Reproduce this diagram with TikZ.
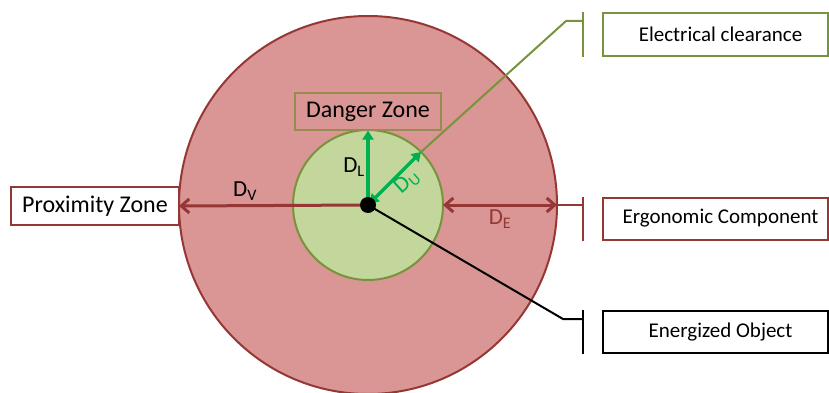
\documentclass[tikz,border=0pt]{standalone}
\usepackage{fontspec}
\setmainfont{Carlito}
\usetikzlibrary{arrows.meta,positioning,calc}
\definecolor{zonered}{RGB}{217,150,148}
\definecolor{edgered}{RGB}{149,55,53}
\definecolor{zonegreen}{RGB}{195,214,155}
\definecolor{edgegreen}{RGB}{119,147,60}
\definecolor{arrgreen}{RGB}{0,176,80}
\definecolor{dangeredge}{RGB}{150,140,80}
\tikzset{
  tagbox/.style={rectangle, draw, line width=2pt, fill=white, minimum width=225, minimum height=42,
                 inner sep=0pt, font=\fontsize{21}{23}\selectfont},
  conn/.style={line width=2pt},
  dim/.style={line width=3pt, {Straight Barb[length=8pt,width=14pt]}-{Straight Barb[length=8pt,width=14pt]}},
  gdim/.style={line width=3.2pt, arrgreen, {Triangle[length=9pt,width=11pt]}-{Triangle[length=9pt,width=11pt]}},
  lbl/.style={font=\fontsize{23}{25}\selectfont, inner sep=0pt},
}

\begin{document}
\begin{tikzpicture}[x=1pt,y=1pt]
\useasboundingbox (0,0) rectangle (829,392);
\clip (0,0) rectangle (829,392);

% ================= the two zones =================
\coordinate (c) at (368,187);
\draw[edgered, line width=2pt, fill=zonered] (c) circle (189);
\draw[edgegreen, line width=2pt, fill=zonegreen] (c) circle (75);

\coordinate (outL) at ($(c)+(-189,-1)$);
\coordinate (outR) at ($(c)+(189,0)$);
\coordinate (inR)  at ($(c)+(75,0)$);
\coordinate (inU)  at ($(c)+(45:75)$);

% ================= zone labels =================
\node[draw=dangeredge, line width=1.2pt, minimum width=146, minimum height=37, inner sep=0pt,
      font=\fontsize{24}{26}\selectfont] (danger) at (368,280.5) {Danger Zone};
\node[draw=edgered, line width=1.2pt, fill=white, minimum width=168, minimum height=38, inner sep=0pt,
      font=\fontsize{24}{26}\selectfont] (prox) at (95,186) {Proximity Zone};

% ================= distances =================
\draw[dim, edgered, {Straight Barb[length=8pt,width=14pt]}-] (outL) -- (c);
\draw[dim, edgered] (inR) -- (outR);
\draw[gdim, -{Triangle[length=9pt,width=11pt]}] (c) -- (danger.south);
\draw[gdim] ($(c)+(45:2)$) -- (inU);

\node[lbl] (dv) at (245,201) {D\textsubscript{V}};
\node[lbl, text=edgered] (de) at (500,173) {D\textsubscript{E}};
\node[lbl] (dl) at (354,225) {D\textsubscript{L}};
\node[lbl, text=arrgreen, rotate=42] (du) at (407,210) {D\textsubscript{U}};

\fill (c) circle (8);

% ================= side tags =================
\node[tagbox, draw=edgegreen] (elec) at (715.5,357.5) {\hspace*{10pt}Electrical clearance};
\node[tagbox, draw=edgered] (ergo) at (715.5,173.5) {\hspace*{10pt}Ergonomic Component};
\node[tagbox, draw=black] (ener) at (715.5,60) {\hspace*{10pt}Energized Object};

\coordinate (bx) at (583,0);
\coordinate (kE) at (566,371);
\coordinate (kO) at (563,73);
\draw[conn, edgegreen] (inU) -- (kE) -- (kE -| bx);
\draw[conn, edgegreen] (elec.north -| bx) -- (elec.south -| bx);
\draw[conn, edgered] (outR) -- (outR -| bx);
\draw[conn, edgered] (ergo.north -| bx) -- (ergo.south -| bx);
\draw[conn, black] (c) -- (kO) -- (kO -| bx);
\draw[conn, black] (ener.north -| bx) -- (ener.south -| bx);

\end{tikzpicture}
\end{document}
